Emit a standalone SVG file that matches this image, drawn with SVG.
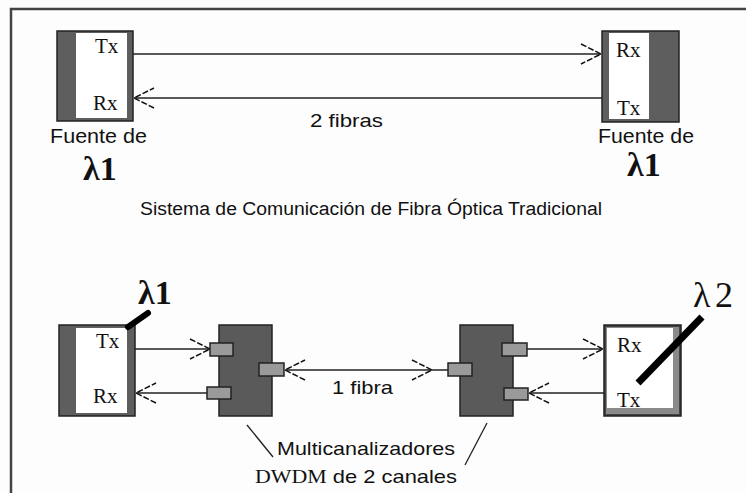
<svg xmlns="http://www.w3.org/2000/svg" width="746" height="493" viewBox="0 0 746 493">
<style>
.sans{font-family:"Liberation Sans",Arial,sans-serif;fill:#111}
.serif{font-family:"Liberation Serif","Times New Roman",serif;fill:#111}
.lbl{font-size:20px}
.txrx{font-size:21px}
.lam{font-size:34px;font-weight:bold}
.lam2{font-size:36px;font-weight:normal}
.conn{stroke:#222;stroke-width:1.5;fill:none}
.mux{fill:#5a5a5a;stroke:#222;stroke-width:1.5}
.port{fill:#9a9a9a;stroke:#222;stroke-width:1.5}
.strip{fill:#5e5e5e;stroke:#222;stroke-width:1.5}
</style>
<defs>
<marker id="ah" viewBox="-22 -12 24 24" refX="0" refY="0" markerWidth="24" markerHeight="24" markerUnits="userSpaceOnUse" orient="auto-start-reverse">
<path d="M-20,-10 L0,0 L-20,10" fill="none" stroke="#111" stroke-width="1.5" stroke-dasharray="6 2"/>
</marker>
</defs>
<rect width="746" height="493" fill="#fdfdfd"/>
<!-- frame -->
<path d="M11,493 L11,9 L746,9" fill="none" stroke="#444" stroke-width="2.5"/>

<g id="connectors">
<line class="conn" x1="133" y1="54" x2="601" y2="54" marker-end="url(#ah)"/>
<line class="conn" x1="602" y1="98" x2="134" y2="98" marker-end="url(#ah)"/>
<line class="conn" x1="135" y1="349" x2="210" y2="349" marker-end="url(#ah)"/>
<line class="conn" x1="207" y1="393" x2="136" y2="393" marker-end="url(#ah)"/>
<line class="conn" x1="285" y1="370" x2="448" y2="370" marker-start="url(#ah)"/>
<path d="M412,360 L432,370 L412,380" fill="none" stroke="#111" stroke-width="1.5" stroke-dasharray="6 2"/>
<line class="conn" x1="527" y1="349" x2="603" y2="349" marker-end="url(#ah)"/>
<line class="conn" x1="604" y1="393" x2="529" y2="393" marker-end="url(#ah)"/>
<line stroke="#222" stroke-width="1.3" x1="247" y1="425" x2="273" y2="457"/>
<line stroke="#222" stroke-width="1.3" x1="487" y1="423" x2="465" y2="465"/>
</g>

<g id="src-top-left">
<rect class="strip" x="57" y="31" width="76" height="90"/>
<rect x="76" y="33" width="51" height="85" fill="#fff"/>
<text class="serif txrx" x="95" y="53">Tx</text>
<text class="serif txrx" x="93" y="110">Rx</text>
<text class="sans lbl" x="50" y="143" textLength="97" lengthAdjust="spacingAndGlyphs">Fuente de</text>
<text class="serif lam" x="83" y="180">λ1</text>
</g>

<g id="src-top-right">
<rect class="strip" x="602" y="31" width="77" height="91"/>
<rect x="609" y="33" width="40" height="86" fill="#fff"/>
<text class="serif txrx" x="616" y="57">Rx</text>
<text class="serif txrx" x="617" y="115">Tx</text>
<text class="sans lbl" x="598" y="143" textLength="96" lengthAdjust="spacingAndGlyphs">Fuente de</text>
<text class="serif lam" x="627" y="176">λ1</text>
</g>

<text class="sans" x="310" y="127" font-size="19" textLength="73" lengthAdjust="spacingAndGlyphs">2 fibras</text>
<text class="sans" x="140" y="215" font-size="18" textLength="462" lengthAdjust="spacingAndGlyphs">Sistema de Comunicación de Fibra Óptica Tradicional</text>

<g id="src-bottom-left">
<rect class="strip" x="59" y="325" width="76" height="91"/>
<rect x="76" y="328" width="51" height="85" fill="#fff"/>
<text class="serif txrx" x="96" y="348">Tx</text>
<text class="serif txrx" x="93" y="403">Rx</text>
<line x1="128" y1="327" x2="148" y2="313" stroke="#000" stroke-width="6" stroke-linecap="round"/>
<text class="serif lam" x="138" y="304">λ1</text>
</g>

<g id="mux-left">
<rect class="mux" x="219" y="325" width="53" height="91"/>
<rect class="port" x="210" y="343" width="23" height="13"/>
<rect class="port" x="207" y="387" width="24" height="12"/>
<rect class="port" x="259" y="363" width="25" height="13"/>
</g>

<g id="mux-right">
<rect class="mux" x="460" y="325" width="53" height="91"/>
<rect class="port" x="448" y="363" width="24" height="13"/>
<rect class="port" x="502" y="343" width="25" height="13"/>
<rect class="port" x="504" y="388" width="24" height="12"/>
</g>

<text class="sans" x="332" y="394" font-size="19" textLength="61" lengthAdjust="spacingAndGlyphs">1 fibra</text>

<g id="src-bottom-right">
<rect x="604" y="325" width="77" height="91" fill="#444" stroke="#222" stroke-width="1.5"/>
<rect x="606" y="327" width="73" height="87" fill="#8a8a8a"/>
<rect x="607" y="328" width="66" height="80" fill="#fff"/>
<text class="serif txrx" x="617" y="352">Rx</text>
<text class="serif txrx" x="617" y="407">Tx</text>
<line x1="638" y1="383" x2="702" y2="317" stroke="#000" stroke-width="7"/>
<text class="serif lam2" x="693" y="307" textLength="40" lengthAdjust="spacing">λ 2</text>
</g>

<g id="caption">
<text class="sans" x="277" y="455" font-size="19" textLength="178" lengthAdjust="spacingAndGlyphs">Multicanalizadores</text>
<text class="sans" x="255" y="483" font-size="19" textLength="202" lengthAdjust="spacingAndGlyphs"><tspan class="serif">DWDM</tspan> de 2 canales</text>
</g>
</svg>
